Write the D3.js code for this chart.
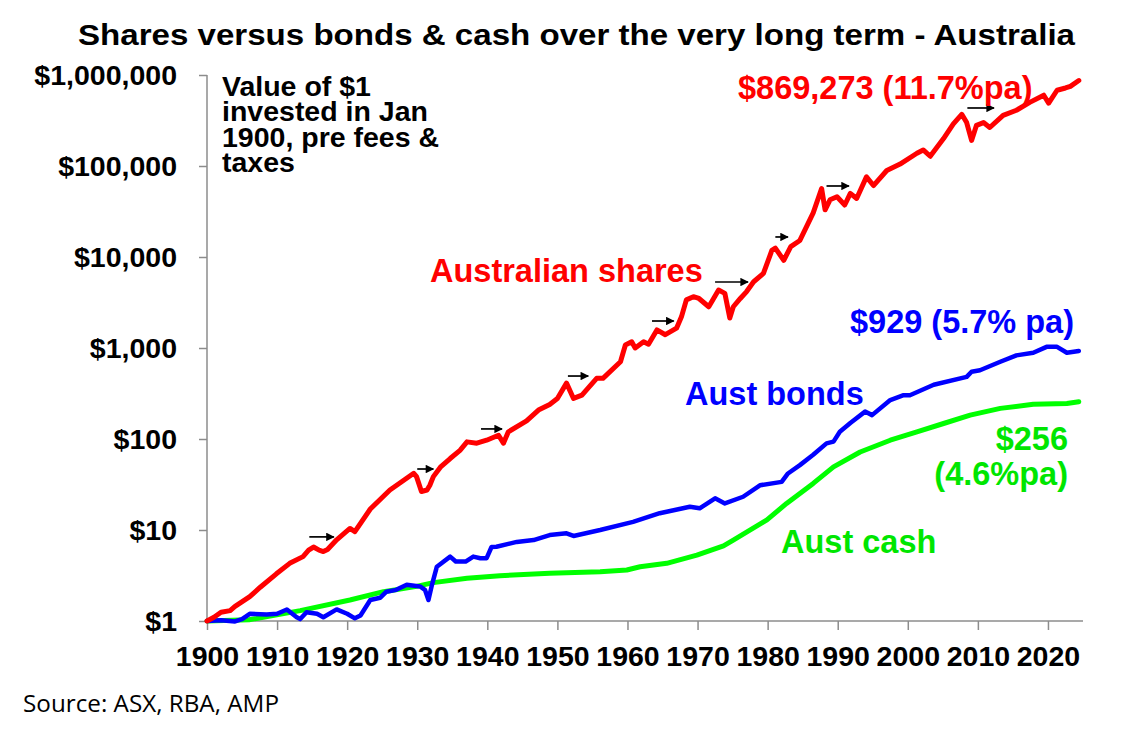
<!DOCTYPE html>
<html>
<head>
<meta charset="utf-8">
<script src="https://cdn.jsdelivr.net/npm/d3@7"></script>
<style>
  body { margin: 0; background: #fff; }
  svg text { font-family: "Liberation Sans", Arial, sans-serif; }
</style>
</head>
<body>
<svg id="chart" width="1123" height="733"></svg>
<script>
// values: [year, value of $1]
var sharesData = [
  [1900,1.0],[1901,1.1],[1902,1.25],[1903.3,1.3],[1904,1.45],[1906.1,1.85],[1907.6,2.35],
  [1909.9,3.3],[1911.8,4.3],[1913.7,5.1],[1914.5,6.0],[1915.2,6.5],[1916,6.0],[1916.6,5.8],
  [1917.2,6.1],[1918.5,7.8],[1920.4,10.4],[1921.1,9.6],[1923.3,17],[1926.1,27.5],[1929.5,42],
  [1929.9,38.6],[1930.6,26.5],[1931.4,27.5],[1931.8,31],[1932.3,38.6],[1933.3,49],[1934.7,61],
  [1936.1,75],[1937.1,93],[1938.5,90],[1939.9,97],[1941.6,110],[1942.3,90],[1943,120],
  [1945.6,158],[1947.3,208],[1948.9,240],[1950,279],[1951.3,411],[1952.3,279],[1953.5,303],
  [1955.6,464],[1956.5,464],[1959,707],[1959.7,1078],[1960.6,1170],[1961.1,1001],[1962.3,1170],
  [1963,1100],[1964.2,1580],[1965.4,1400],[1967,1650],[1967.7,2200],[1968.4,3380],[1969.4,3660],
  [1970.2,3500],[1971.6,2840],[1973,4330],[1973.9,3980],[1974.6,2140],[1975.1,2840],[1976.1,3500],
  [1977,4170],[1978,5350],[1979.4,6600],[1980.6,11800],[1981.1,12500],[1982.3,9200],[1983.3,13000],
  [1984.6,15200],[1986.5,30500],[1987.7,56600],[1988.2,33000],[1988.9,42500],[1989.9,46000],
  [1991,37300],[1991.8,50000],[1992.7,44000],[1994.1,76000],[1995.1,61000],[1997,89300],
  [1998.9,105000],[2001.3,138000],[2002.2,150000],[2003.2,128000],[2005.1,200000],[2006.5,290000],
  [2007.7,370000],[2008.4,300000],[2009.1,191000],[2009.8,280000],[2010.8,300000],[2011.7,265000],
  [2013.6,360000],[2015.5,410000],[2017.4,500000],[2019.4,600000],[2020.1,490000],[2021.3,680000],
  [2022.5,720000],[2023.2,750000],[2024.4,869273]
];

var bondsData = [
  [1900,1.0],[1902,1.02],[1904,0.99],[1905,1.05],[1906.1,1.2],[1908.5,1.18],[1910,1.2],[1911.4,1.34],
  [1912.8,1.1],[1913.3,1.05],[1914.2,1.25],[1915.7,1.2],[1916.6,1.1],[1918.5,1.34],[1920,1.2],
  [1921.1,1.07],[1921.9,1.15],[1923.3,1.7],[1924.7,1.8],[1925.6,2.1],[1927,2.2],[1928.5,2.5],
  [1930.4,2.4],[1931.1,2.2],[1931.6,1.7],[1932.1,2.5],[1932.8,3.95],[1934.7,5.1],[1935.5,4.5],
  [1936.9,4.5],[1938,5.1],[1939,4.9],[1939.9,4.9],[1940.6,6.5],[1941.3,6.55],[1944.2,7.4],
  [1946.6,7.75],[1948.9,8.8],[1951.3,9.2],[1952.3,8.6],[1956.1,10],[1960.8,12.3],[1964.6,15.3],
  [1968.9,18],[1970.3,17.3],[1972.5,22.3],[1973.9,19.6],[1976.5,23.2],[1978.9,31],[1982,33.8],
  [1982.9,41.8],[1984.6,51.6],[1986.5,67],[1988.4,89.6],[1989.4,93.5],
  [1990.3,120],[1991.8,150],[1993.9,200],[1994.9,183],[1997.5,268],[1999.4,303],[2000.3,303],
  [2003.7,394],[2008.4,482],[2009.1,549],[2010.3,570],[2013.2,707],[2015.5,830],[2017.9,886],
  [2019.8,1030],[2021.3,1030],[2022.7,886],[2024.4,929]
];

var cashData = [
  [1900,1.0],[1906,1.03],[1913.3,1.3],[1920.4,1.7],[1925.2,2.1],[1929.9,2.4],[1932.3,2.64],
  [1937.1,2.95],[1941.8,3.15],[1948.9,3.34],[1956.1,3.48],[1959.9,3.63],[1961.8,3.95],
  [1965.6,4.3],[1969.9,5.3],[1973.7,6.7],[1975.1,7.75],[1979.9,12.9],[1982.7,19.6],
  [1986.5,32.5],[1989.4,49.4],[1993.2,72],
  [1997.5,97],[2001.3,120],[2005.1,148],[2008.9,183],[2013.2,217],[2017.9,241],
  [2022.7,246],[2024.4,256]
];

// black arrows over the share line: [from year, to year, value]
var arrowMarks = [
  [1914.6,1918.1,8.4],[1930.0,1932.3,46.8],[1939.1,1942.1,129],[1951.5,1954.4,492],
  [1963.5,1966.6,1980],[1972.5,1977.2,5310],[1981.1,1982.9,16600],[1988.4,1991.6,60300],
  [2008.5,2012.3,434000]
];

var yTicks = [1, 10, 100, 1000, 10000, 100000, 1000000];
var yTickLabels = ["$1","$10","$100","$1,000","$10,000","$100,000","$1,000,000"];
var xTicks = [1900,1910,1920,1930,1940,1950,1960,1970,1980,1990,2000,2010,2020];

var svg = d3.select("#chart");

var x = d3.scaleLinear().domain([1900, 2025]).range([207, 1083]);
var y = d3.scaleLog().domain([1, 1000000]).range([621, 75]);

// title
svg.append("text")
   .attr("x", 78).attr("y", 45)
   .attr("textLength", 997).attr("lengthAdjust", "spacingAndGlyphs")
   .style("font-size", "29px").style("font-weight", "bold")
   .text("Shares versus bonds & cash over the very long term - Australia");

// axes
var yAxis = d3.axisLeft(y)
    .tickValues(yTicks)
    .tickSize(8)
    .tickPadding(22)
    .tickFormat(function (d, i) { return yTickLabels[i]; });

var gy = svg.append("g").attr("transform", "translate(207,0)").call(yAxis);

var xAxis = d3.axisBottom(x)
    .tickValues(xTicks)
    .tickSize(9)
    .tickPadding(16)
    .tickFormat(d3.format("d"));

var gx = svg.append("g").attr("transform", "translate(0,621)").call(xAxis);

[gx, gy].forEach(function (g) {
  g.select(".domain").attr("stroke", "#8c8c8c").attr("stroke-width", 1.5);
  g.selectAll(".tick line").attr("stroke", "#8c8c8c").attr("stroke-width", 1.5);
  g.selectAll(".tick text")
   .attr("fill", "#000")
   .style("font-family", '"Liberation Sans", Arial, sans-serif')
   .style("font-weight", "bold")
   .style("font-size", "28.5px");
});
// domain lines without the outer stubs
gy.select(".domain").attr("d", "M0,75V621");
gx.select(".domain").attr("d", "M207,0H1083");
gx.selectAll(".tick text").attr("dy", "0.71em");

// series lines
var line = d3.line()
    .x(function (d) { return x(d[0]); })
    .y(function (d) { return y(d[1]); });

var series = [
  { data: cashData,   color: "#00ff00", width: 5 },
  { data: bondsData,  color: "#0000ff", width: 4.5 },
  { data: sharesData, color: "#ff0000", width: 5 }
];

series.forEach(function (s) {
  svg.append("path")
     .datum(s.data)
     .attr("d", line)
     .attr("fill", "none")
     .attr("stroke", s.color)
     .attr("stroke-width", s.width)
     .attr("stroke-linejoin", "round")
     .attr("stroke-linecap", "round");
});

// arrows
svg.append("defs").append("marker")
   .attr("id", "head")
   .attr("viewBox", "0 0 10 10")
   .attr("refX", 9).attr("refY", 5)
   .attr("markerWidth", 6).attr("markerHeight", 5)
   .attr("markerUnits", "strokeWidth")
   .attr("orient", "auto")
   .append("path").attr("d", "M0,0L10,5L0,10Z").attr("fill", "#000");

svg.selectAll(".arrow")
   .data(arrowMarks)
   .enter().append("line")
   .attr("class", "arrow")
   .attr("x1", function (d) { return x(d[0]); })
   .attr("x2", function (d) { return x(d[1]); })
   .attr("y1", function (d) { return y(d[2]); })
   .attr("y2", function (d) { return y(d[2]); })
   .attr("stroke", "#000")
   .attr("stroke-width", 1.7)
   .attr("marker-end", "url(#head)");

// note in the top left of the plot
var note = ["Value of $1", "invested in Jan", "1900, pre fees &", "taxes"];
svg.append("text")
   .style("font-size", "28.5px").style("font-weight", "bold")
   .selectAll("tspan").data(note).enter().append("tspan")
   .attr("x", 222)
   .attr("y", function (d, i) { return 96 + i * 25.3; })
   .text(function (d) { return d; });

// series labels
function label(txt, px, py, color, anchor) {
  svg.append("text")
     .attr("x", px).attr("y", py)
     .attr("text-anchor", anchor || "start")
     .attr("fill", color)
     .style("font-size", "32.5px").style("font-weight", "bold")
     .text(txt);
}
label("$869,273 (11.7%pa)", 738, 99, "#ff0000");
label("Australian shares", 430, 282, "#ff0000");
label("$929 (5.7% pa)", 850, 333, "#0000ff");
label("Aust bonds", 685, 405, "#0000ff");
label("$256", 1068, 450, "#00e600", "end");
label("(4.6%pa)", 1068, 485, "#00e600", "end");
label("Aust cash", 781, 553, "#00e600");

// source
svg.append("text")
   .attr("x", 23).attr("y", 712)
   .attr("textLength", 256).attr("lengthAdjust", "spacingAndGlyphs")
   .style("font-family", '"Open Sans", sans-serif')
   .style("font-size", "24px")
   .text("Source: ASX, RBA, AMP");
</script>
</body>
</html>
